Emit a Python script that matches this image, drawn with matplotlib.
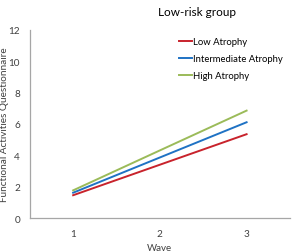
import matplotlib
matplotlib.use('Agg')
import matplotlib.pyplot as plt

waves = [1, 2, 3]
low_atrophy = [1.47, 3.41, 5.35]
intermediate_atrophy = [1.63, 3.87, 6.11]
high_atrophy = [1.78, 4.32, 6.85]

plt.rcParams['font.family'] = ['Lato', 'DejaVu Sans']

fig = plt.figure(figsize=(2.92, 2.53), dpi=100)
ax = fig.add_axes([0.102, 0.133, 0.891, 0.746])

ax.plot(waves, low_atrophy, color='#C8232C', lw=1.4, label='Low Atrophy')
ax.plot(waves, intermediate_atrophy, color='#1F72C4', lw=1.4, label='Intermediate Atrophy')
ax.plot(waves, high_atrophy, color='#9BBB59', lw=1.4, label='High Atrophy')

ax.set_xlim(0.5, 3.5)
ax.set_ylim(0, 12)
ax.set_xticks(waves)
ax.set_yticks(range(0, 13, 2))
ax.tick_params(length=0, labelsize=7.2, colors='#404040')
ax.tick_params(axis='y', pad=7)
ax.tick_params(axis='x', pad=8)
for s in ['top', 'right']:
    ax.spines[s].set_visible(False)
for s in ['left', 'bottom']:
    ax.spines[s].set_color('#A6A6A6')
    ax.spines[s].set_linewidth(0.9)

ax.set_xlabel('Wave', fontsize=7, color='#404040', labelpad=3.5)
ax.set_ylabel('Functional Activities Questionnaire', fontsize=7.2, color='#404040')
ax.yaxis.set_label_coords(-0.08, 0.5)
fig.text(0.675, 0.95, 'Low-risk group', fontsize=8.5, ha='center', va='center')

ax.legend(loc='upper left', bbox_to_anchor=(0.555, 0.985), frameon=False, fontsize=6.8,
          handlelength=1.4, handletextpad=0.05, labelspacing=0.85, borderpad=0)

fig.savefig('out.png', dpi=100)
